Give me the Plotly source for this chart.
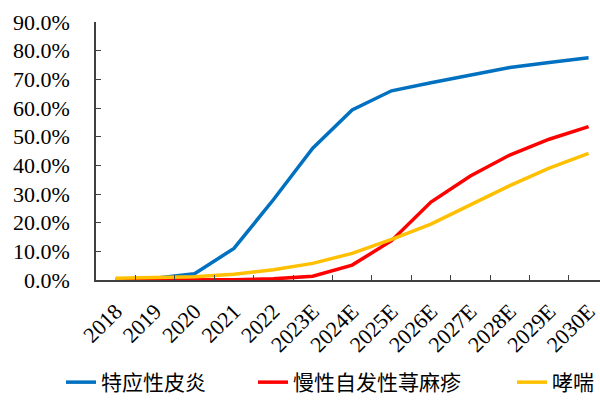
import plotly.graph_objects as go

years = ["2018", "2019", "2020", "2021", "2022", "2023E", "2024E", "2025E",
         "2026E", "2027E", "2028E", "2029E", "2030E"]
atopic_dermatitis = [0.003, 0.006, 0.022, 0.110, 0.280, 0.460, 0.593, 0.660,
                     0.688, 0.715, 0.741, 0.759, 0.775]
csu = [0.000, 0.000, 0.000, 0.001, 0.004, 0.013, 0.052, 0.137, 0.272,
       0.363, 0.436, 0.491, 0.535]
asthma = [0.006, 0.008, 0.011, 0.020, 0.036, 0.058, 0.093, 0.142, 0.195,
          0.262, 0.329, 0.390, 0.442]

names = ["特应性皮炎", "慢性自发性荨麻疹", "哮喘"]
colors = ["#0070C0", "#FF0000", "#FFC000"]
series = [atopic_dermatitis, csu, asthma]
legend_ids = ["legend", "legend2", "legend3"]
legend_text_x = [101, 293, 552]

fig = go.Figure()
for name, color, vals, lg in zip(names, colors, series, legend_ids):
    fig.add_trace(go.Scatter(
        x=years, y=vals, mode="lines", name=name, legend=lg,
        line=dict(color=color, width=3.5),
    ))

serif = "Liberation Serif"
legend_font = dict(family="Noto Sans CJK SC", size=21, color="black")
legend_layout = {}
for lg, tx in zip(legend_ids, legend_text_x):
    legend_layout[lg] = dict(
        orientation="h", x=(tx - 40) / 600, xanchor="left", xref="container",
        y=0, yanchor="bottom", yref="container",
        font=legend_font, bgcolor="rgba(0,0,0,0)",
    )

fig.update_layout(
    width=600, height=403,
    margin=dict(l=96, r=0, t=22, b=123),
    plot_bgcolor="white", paper_bgcolor="white",
    font=dict(family=serif, size=22, color="black"),
    showlegend=True,
    **legend_layout,
    xaxis=dict(
        type="category", range=[-0.5, 12.29],
        tickson="boundaries", ticks="inside", ticklen=5, tickcolor="#404040",
        showline=True, linecolor="#404040", linewidth=1.5,
        showgrid=False, tickangle=-45, ticklabelstandoff=8,
        tickfont=dict(family=serif, size=22, color="black"),
    ),
    yaxis=dict(
        range=[0, 0.9], dtick=0.1, tickformat=".1%",
        ticks="inside", ticklen=5, tickcolor="#404040",
        showline=True, linecolor="#404040", linewidth=1.5,
        showgrid=False, zeroline=False, ticklabelstandoff=20,
        tickfont=dict(family=serif, size=22, color="black"),
    ),
)

fig.write_html("out.html")
